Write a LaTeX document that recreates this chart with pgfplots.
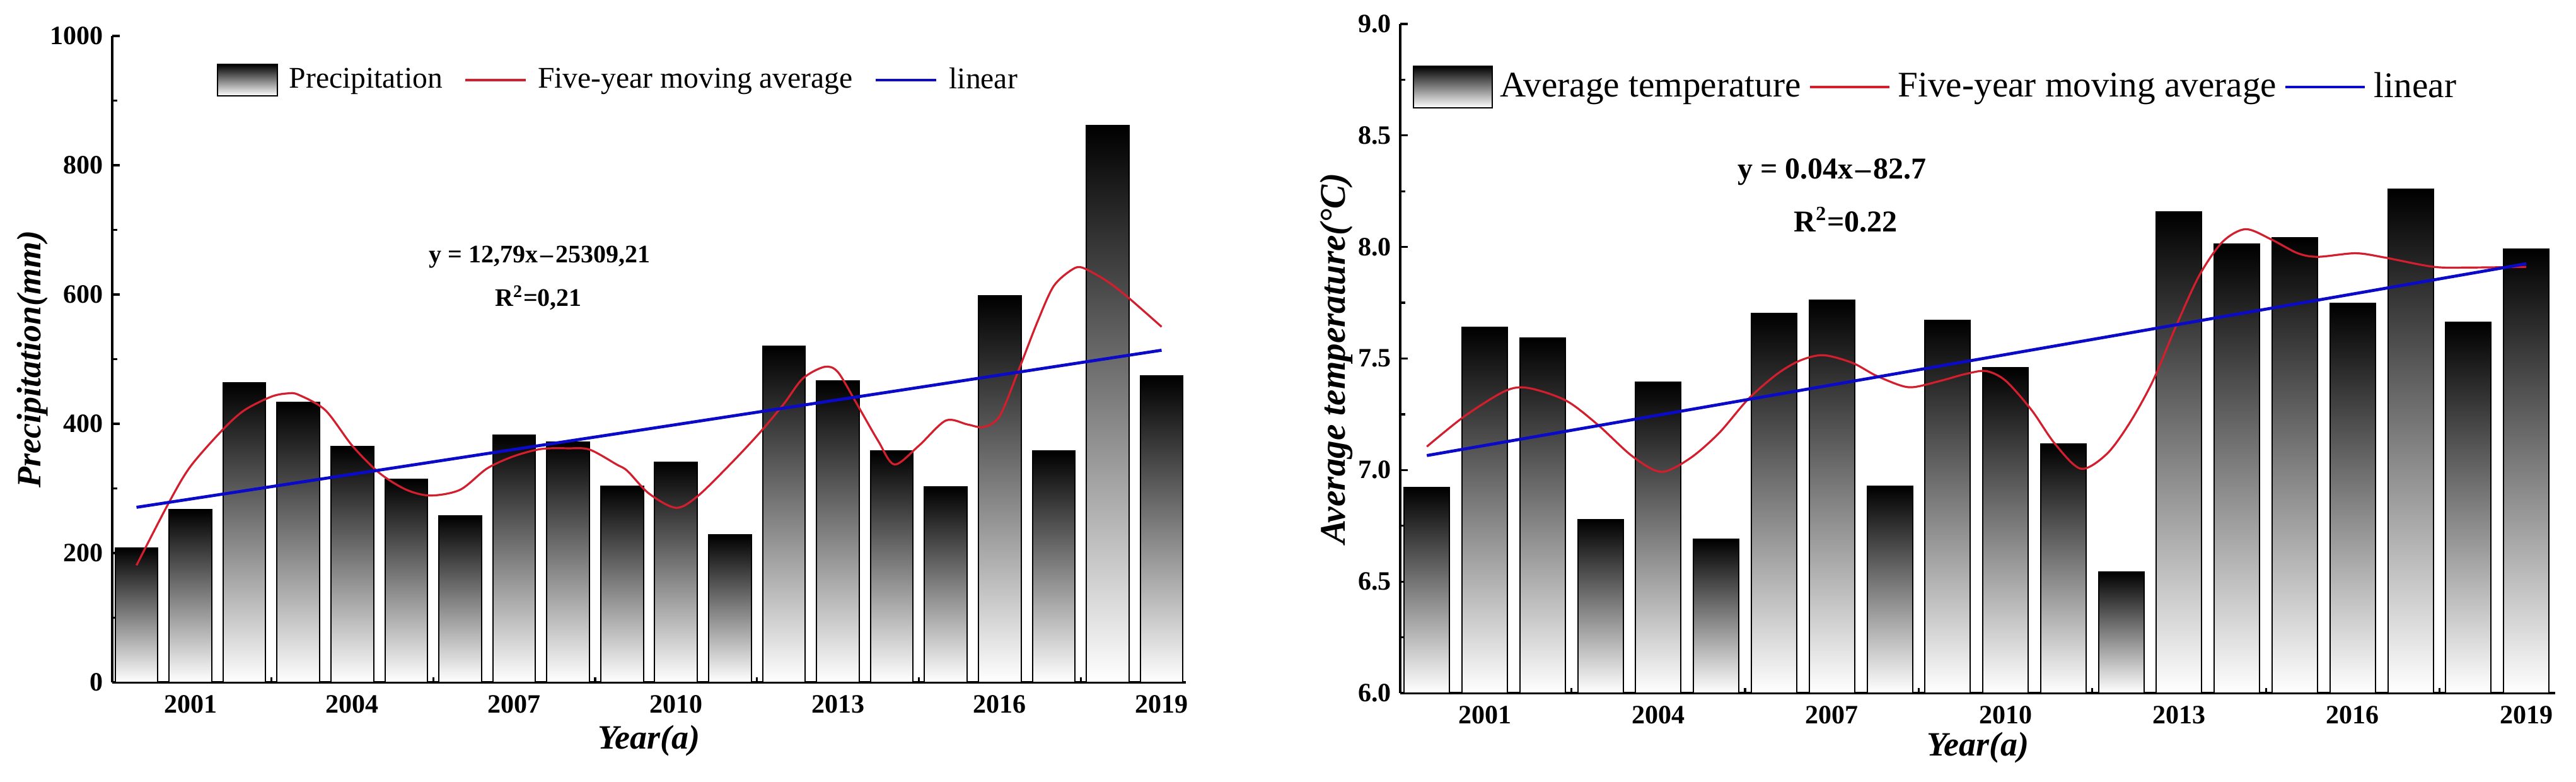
\documentclass[border=0pt]{standalone}
\usepackage{fontspec}
\setmainfont{Liberation Serif}
\usepackage{pgfplots}
\pgfplotsset{compat=1.18}

\definecolor{mared}{RGB}{210,30,45}
\definecolor{linblue}{RGB}{10,10,200}

\tikzset{
  lfont/.style={font=\bfseries\itshape\fontsize{13.5}{16}\selectfont},
  barfill/.style={draw=black, line width=0.5pt, top color=black, bottom color=white},
}

\pgfplotsset{
  common/.style={
    scale only axis,
    axis lines*=left,
    axis line style={line width=1pt},
    tick align=inside,
    major tick length=3pt, minor tick length=2pt,
    tick style={line width=0.8pt, black},
    xtick={2001,2004,...,2019},
    minor xtick={2002.5,2005.5,...,2017.5},
    /pgf/number format/assume math mode=true,
    /pgf/number format/1000 sep={},
    tick label style={font=\bfseries\fontsize{10.5}{12}\selectfont},
    xticklabel style={yshift=-1.5pt},
    legend columns=3,
  },
  barsty/.style={ybar, bar shift=0pt, barfill},
}

\begin{document}
\begin{tikzpicture}
\useasboundingbox (-44.5pt,-39.5pt) rectangle (977pt,270.5pt);

% ---------------- left panel ----------------
\begin{axis}[common,
  at={(0pt,0pt)}, anchor=south west,
  width=425.75pt, height=256.25pt,
  xmin=1999.55, xmax=2019.45,
  ymin=0, ymax=1000,
  ytick={0,200,...,1000}, minor ytick={100,300,...,900},
  xlabel={Year(a)}, ylabel={Precipitation(mm)},
  every axis x label/.style={at={(axis description cs:0.5,-0.0898)}, anchor=center, lfont},
  every axis y label/.style={at={(axis description cs:-0.074,0.5)}, anchor=center, rotate=90, lfont},
  legend style={draw=none, fill=none, at={(axis description cs:0.0898,0.9317)}, anchor=west,
    font=\fontsize{11.9}{14}\selectfont,
    /tikz/every odd column/.append style={column sep=2.5pt},
    /tikz/every even column/.append style={column sep=6.5pt}},
  bar width=0.79,
]
\addplot[barsty,
  legend image code/.code={\draw[barfill] (0pt,-6.25pt) rectangle (23.75pt,6.25pt);}]
  coordinates {(2000,208)};
\addlegendentry{Precipitation}
\addplot[barsty, forget plot] coordinates {(2001,267)};
\addplot[barsty, forget plot] coordinates {(2002,463)};
\addplot[barsty, forget plot] coordinates {(2003,433)};
\addplot[barsty, forget plot] coordinates {(2004,365)};
\addplot[barsty, forget plot] coordinates {(2005,314)};
\addplot[barsty, forget plot] coordinates {(2006,258)};
\addplot[barsty, forget plot] coordinates {(2007,382)};
\addplot[barsty, forget plot] coordinates {(2008,372)};
\addplot[barsty, forget plot] coordinates {(2009,303)};
\addplot[barsty, forget plot] coordinates {(2010,340)};
\addplot[barsty, forget plot] coordinates {(2011,228)};
\addplot[barsty, forget plot] coordinates {(2012,520)};
\addplot[barsty, forget plot] coordinates {(2013,466)};
\addplot[barsty, forget plot] coordinates {(2014,358)};
\addplot[barsty, forget plot] coordinates {(2015,302)};
\addplot[barsty, forget plot] coordinates {(2016,598)};
\addplot[barsty, forget plot] coordinates {(2017,358)};
\addplot[barsty, forget plot] coordinates {(2018,861)};
\addplot[barsty, forget plot] coordinates {(2019,474)};
\addplot[mared, line width=0.8pt, smooth,
  legend image code/.code={\draw[mared, line width=0.8pt] (0pt,0pt) -- (24pt,0pt);}]
  coordinates {(2000.0,181) (2000.6,278) (2001.0,334) (2001.6,391) (2002.0,421) (2002.5,442)
  (2002.8,447) (2003.0,445) (2003.5,421) (2004.0,366) (2004.5,324) (2005.0,298) (2005.45,289)
  (2006.0,298) (2006.5,331) (2007.0,350) (2007.5,361) (2008.0,362) (2008.4,360) (2008.9,337)
  (2009.1,327) (2009.5,292) (2010.0,270) (2010.4,288) (2011.0,337) (2011.55,386) (2012.0,431)
  (2012.35,470) (2012.75,488) (2013.0,480) (2013.35,431) (2013.75,373) (2014.05,337) (2014.5,366)
  (2015.0,405) (2015.4,399) (2015.7,395) (2016.0,412) (2016.35,483) (2016.7,558) (2017.0,613)
  (2017.35,639) (2017.55,641) (2018.0,620) (2018.4,594) (2019.0,550)};
\addlegendentry{Five-year moving average}
\addplot[linblue, line width=1.2pt,
  legend image code/.code={\draw[linblue, line width=1.2pt] (0pt,0pt) -- (24pt,0pt);}]
  coordinates {(2000,270.8) (2019,513.8)};
\addlegendentry{linear}
\node[font=\bfseries\fontsize{10}{12}\selectfont] at (axis cs:2007.47,658) {y = 12,79x{\kern1pt}–{\kern1pt}25309,21};
\node[font=\bfseries\fontsize{10}{12}\selectfont] at (axis cs:2007.45,595) {R\textsuperscript{2}=0,21};
\end{axis}

% ---------------- right panel ----------------
\begin{axis}[common,
  at={(510.75pt,-4.25pt)}, anchor=south west,
  width=458pt, height=265.25pt,
  xmin=1999.54, xmax=2019.5,
  y coord trafo/.code={\pgfmathparse{#1-6}},
  y coord inv trafo/.code={\pgfmathparse{#1+6}},
  ymin=6, ymax=9,
  ytick={6,6.5,...,9}, minor ytick={6.25,6.75,...,8.75},
  yticklabel style={/pgf/number format/.cd, fixed, fixed zerofill, precision=1},
  xlabel={Year(a)}, ylabel={Average temperature(°C)},
  every axis x label/.style={at={(axis description cs:0.5,-0.082)}, anchor=center, lfont},
  every axis y label/.style={at={(axis description cs:-0.0551,0.5)}, anchor=center, rotate=90,
    font=\bfseries\itshape\fontsize{14.3}{17}\selectfont},
  legend style={draw=none, fill=none, at={(axis description cs:0.0038,0.9058)}, anchor=west,
    font=\fontsize{14.3}{17}\selectfont,
    /tikz/every odd column/.append style={column sep=1pt},
    /tikz/every even column/.append style={column sep=1pt}},
  bar width=0.785,
]
\addplot[barsty,
  legend image code/.code={\draw[barfill] (0pt,-8.25pt) rectangle (31.25pt,8.25pt);}]
  coordinates {(2000,6.921)};
\addlegendentry{Average temperature}
\addplot[barsty, forget plot] coordinates {(2001,7.639)};
\addplot[barsty, forget plot] coordinates {(2002,7.592)};
\addplot[barsty, forget plot] coordinates {(2003,6.778)};
\addplot[barsty, forget plot] coordinates {(2004,7.393)};
\addplot[barsty, forget plot] coordinates {(2005,6.689)};
\addplot[barsty, forget plot] coordinates {(2006,7.701)};
\addplot[barsty, forget plot] coordinates {(2007,7.762)};
\addplot[barsty, forget plot] coordinates {(2008,6.928)};
\addplot[barsty, forget plot] coordinates {(2009,7.672)};
\addplot[barsty, forget plot] coordinates {(2010,7.458)};
\addplot[barsty, forget plot] coordinates {(2011,7.118)};
\addplot[barsty, forget plot] coordinates {(2012,6.543)};
\addplot[barsty, forget plot] coordinates {(2013,8.157)};
\addplot[barsty, forget plot] coordinates {(2014,8.012)};
\addplot[barsty, forget plot] coordinates {(2015,8.041)};
\addplot[barsty, forget plot] coordinates {(2016,7.746)};
\addplot[barsty, forget plot] coordinates {(2017,8.258)};
\addplot[barsty, forget plot] coordinates {(2018,7.663)};
\addplot[barsty, forget plot] coordinates {(2019,7.990)};
\addplot[mared, line width=0.8pt, smooth,
  legend image code/.code={\draw[mared, line width=1pt] (0pt,0pt) -- (31.5pt,0pt);}]
  coordinates {(2000.0,7.105) (2000.65,7.241) (2001.35,7.354) (2001.75,7.368) (2002.4,7.312)
  (2002.95,7.204) (2003.55,7.062) (2004.05,6.992) (2004.55,7.053) (2005.05,7.166) (2005.55,7.317)
  (2006.05,7.43) (2006.45,7.491) (2006.85,7.515) (2007.35,7.481) (2007.75,7.425) (2008.2,7.378)
  (2008.45,7.373) (2008.95,7.405) (2009.3,7.43) (2009.66,7.444) (2010.0,7.401) (2010.45,7.269)
  (2010.85,7.119) (2011.3,7.006) (2011.75,7.072) (2012.15,7.213) (2012.55,7.401) (2012.95,7.647)
  (2013.35,7.873) (2013.75,8.023) (2014.15,8.080) (2014.6,8.033) (2015.05,7.972) (2015.4,7.956)
  (2016.05,7.972) (2016.55,7.953) (2017.4,7.911) (2018.05,7.908) (2019.0,7.911)};
\addlegendentry{Five-year moving average}
\addplot[linblue, line width=1.2pt,
  legend image code/.code={\draw[linblue, line width=1.2pt] (0pt,0pt) -- (31.5pt,0pt);}]
  coordinates {(2000,7.065) (2019,7.925)};
\addlegendentry{linear}
\node[font=\bfseries\fontsize{12}{14}\selectfont] at (axis cs:2007.0,8.336) {y = 0.04x{\kern1pt}–{\kern1pt}82.7};
\node[font=\bfseries\fontsize{12}{14}\selectfont] at (axis cs:2007.24,8.123) {R\textsuperscript{2}=0.22};
\end{axis}
\end{tikzpicture}
\end{document}
